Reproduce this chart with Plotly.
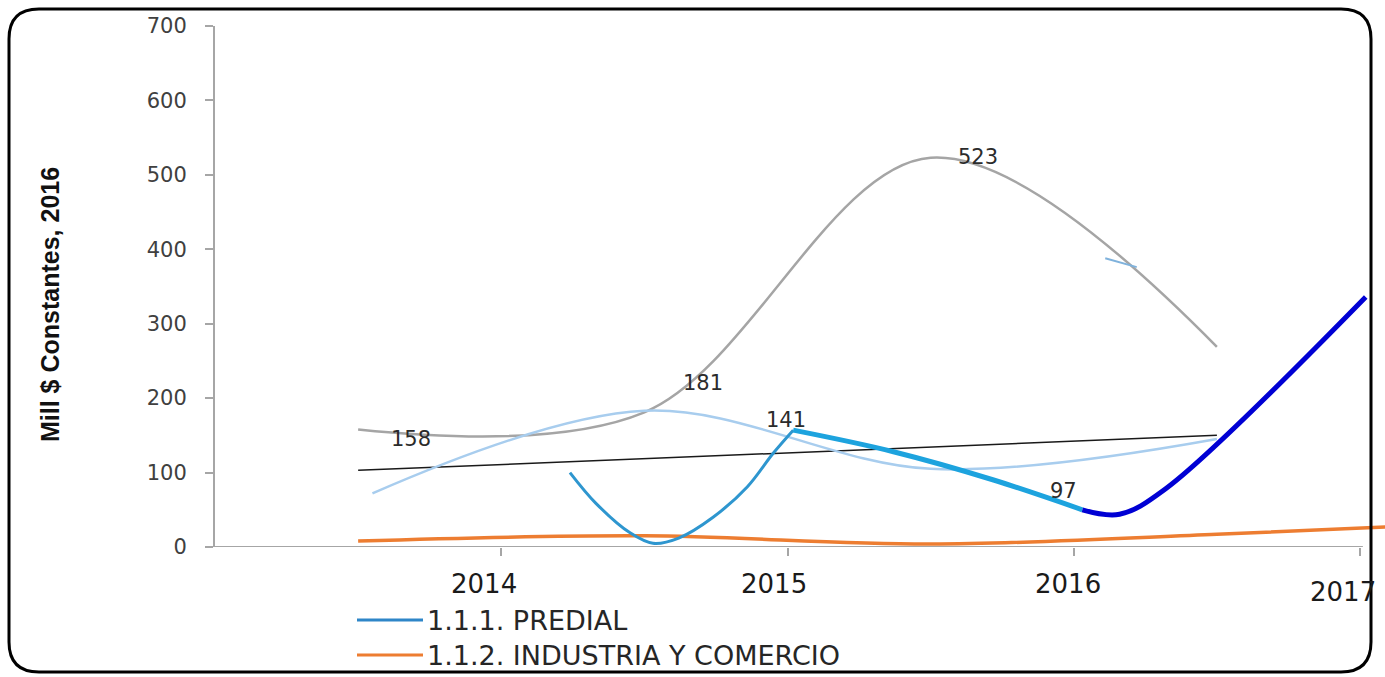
import plotly.graph_objects as go

# ---------------- data ----------------
gray_x = [2013.5, 2014.5, 2015.5, 2016.5]
gray_y = [158, 181, 523, 269]

light_x = [2013.55, 2014.5, 2015.5, 2016.5]
light_y = [72, 183, 105, 145]

trend_x = [2013.5, 2016.5]
trend_y = [103, 150]

predial_x = [2014.24, 2014.33, 2014.45, 2014.53, 2014.62, 2014.74, 2014.86, 2014.95, 2015.02]
predial_y = [100, 59, 19, 5, 12, 40, 81, 126, 157]

cyan_x = [2015.02, 2015.37, 2015.72, 2016.03]
cyan_y = [157, 128, 90, 50]

dark_x = [2016.03, 2016.16, 2016.32, 2017.02]
dark_y = [50, 44, 78, 336]

industria_x = [2013.5, 2014.5, 2015.5, 2016.5, 2017.09]
industria_y = [8, 15, 4, 17, 27]

mark_x = [2016.11, 2016.22]
mark_y = [388, 376]

year_ticks = [2014, 2015, 2016, 2017]
year_labels = ["2014", "2015", "2016", "2017"]
y_ticks = [0, 100, 200, 300, 400, 500, 600, 700]

# data labels: (text, x, y)
label_text = ["158", "181", "141", "523", "97"]
label_x = [2013.5, 2014.5, 2015.02, 2015.5, 2016.03]
label_y = [158, 181, 157, 523, 50]

legend_names = ["1.1.1. PREDIAL", "1.1.2. INDUSTRIA Y COMERCIO"]

# ---------------- layout geometry ----------------
W, H = 1385, 677
ML, MR, MT, MB = 215, 0, 26, 130
PW, PH = W - ML - MR, H - MT - MB


def px(x):
    return (x - ML) / PW


def py(y):
    return (H - MB - y) / PH


fig = go.Figure()

fig.add_trace(go.Scatter(x=trend_x, y=trend_y, mode="lines",
                         line=dict(color="#1a1a1a", width=1.5), showlegend=False))
fig.add_trace(go.Scatter(x=gray_x, y=gray_y, mode="lines",
                         line=dict(color="#A5A5A5", width=2.5, shape="spline"), showlegend=False))
fig.add_trace(go.Scatter(x=light_x, y=light_y, mode="lines",
                         line=dict(color="#A8CDEE", width=2.5, shape="spline"), showlegend=False))
fig.add_trace(go.Scatter(x=industria_x, y=industria_y, mode="lines",
                         line=dict(color="#ED7D31", width=3.5, shape="spline"), showlegend=False,
                         name=legend_names[1]))
fig.add_trace(go.Scatter(x=predial_x, y=predial_y, mode="lines",
                         line=dict(color="#2E96CF", width=3, shape="spline"), showlegend=False,
                         name=legend_names[0]))
fig.add_trace(go.Scatter(x=cyan_x, y=cyan_y, mode="lines",
                         line=dict(color="#1DA3DE", width=5, shape="spline"), showlegend=False))
fig.add_trace(go.Scatter(x=dark_x, y=dark_y, mode="lines",
                         line=dict(color="#0000D4", width=5, shape="spline"), showlegend=False))
fig.add_trace(go.Scatter(x=mark_x, y=mark_y, mode="lines",
                         line=dict(color="#7FB2DC", width=2), showlegend=False))

annotations = []
label_shift = [(53, -10), (59, 29), (-7, 10), (47, 1), (-19, 19)]
for t, x, y, (dx, dy) in zip(label_text, label_x, label_y, label_shift):
    annotations.append(dict(x=x, y=y, xref="x", yref="y", text=t, showarrow=False,
                            xshift=dx, yshift=dy,
                            font=dict(family="DejaVu Sans", size=21, color="#2b2b2b")))

# x tick labels
x_shift = [-17, -14, -6, -17]
x_lab_y = [584, 584, 584, 592]
for v, t, dx, yy in zip(year_ticks, year_labels, x_shift, x_lab_y):
    annotations.append(dict(x=v, y=py(yy), xref="x", yref="paper", text=t, showarrow=False,
                            xshift=dx, xanchor="center", yanchor="middle",
                            font=dict(family="DejaVu Sans", size=26, color="#1a1a1a")))

# y axis title
annotations.append(dict(x=px(50), y=py(305), xref="paper", yref="paper",
                        text="<b>Mill $ Constantes, 2016</b>", textangle=-90, showarrow=False,
                        xanchor="center", yanchor="middle",
                        font=dict(family="Liberation Sans, Arial", size=25, color="#111111")))

# legend text
legend_colors = ["#2E86C8", "#ED7D31"]
legend_y = [620, 655]
shapes = []
for name, c, yy in zip(legend_names, legend_colors, legend_y):
    shapes.append(dict(type="line", xref="paper", yref="paper",
                       x0=px(357), x1=px(423), y0=py(yy), y1=py(yy),
                       line=dict(color=c, width=3)))
    annotations.append(dict(x=px(425), y=py(yy), xref="paper", yref="paper", text=name,
                            showarrow=False, xanchor="left", yanchor="middle",
                            font=dict(family="DejaVu Sans", size=27, color="#262626")))

# x axis baseline
shapes.append(dict(type="line", xref="x", yref="y", x0=2013, x1=2017.01, y0=0, y1=0,
                   line=dict(color="#A6A6A6", width=2), layer="below"))

# rounded border
x0b, y0b, x1b, y1b, r = 9, 9, 1371, 672, 30
path = (f"M {px(x0b + r)} {py(y0b)} L {px(x1b - r)} {py(y0b)} "
        f"Q {px(x1b)} {py(y0b)} {px(x1b)} {py(y0b + r)} "
        f"L {px(x1b)} {py(y1b - r)} Q {px(x1b)} {py(y1b)} {px(x1b - r)} {py(y1b)} "
        f"L {px(x0b + r)} {py(y1b)} Q {px(x0b)} {py(y1b)} {px(x0b)} {py(y1b - r)} "
        f"L {px(x0b)} {py(y0b + r)} Q {px(x0b)} {py(y0b)} {px(x0b + r)} {py(y0b)} Z")
shapes.append(dict(type="path", xref="paper", yref="paper", path=path,
                   line=dict(color="#000000", width=3), layer="above"))

fig.update_layout(
    width=W, height=H,
    margin=dict(l=ML, r=MR, t=MT, b=MB, pad=0),
    paper_bgcolor="white", plot_bgcolor="white",
    showlegend=False,
    xaxis=dict(range=[2013, 2013 + PW / 286.25], showgrid=False, zeroline=False, showline=False,
               tickvals=year_ticks, ticks="outside", ticklen=8, tickwidth=1.5,
               tickcolor="#A6A6A6", showticklabels=False, fixedrange=True),
    yaxis=dict(range=[0, 700], tickvals=y_ticks, showgrid=False, zeroline=False,
               showline=True, linecolor="#A6A6A6", linewidth=2,
               ticks="outside", ticklen=8, tickwidth=1.5, tickcolor="#A6A6A6",
               ticklabelstandoff=14,
               tickfont=dict(family="DejaVu Sans", size=21, color="#404040"), fixedrange=True),
    annotations=annotations,
    shapes=shapes,
)

fig.write_html("out.html", config={"displayModeBar": False},
               post_script="document.body.style.margin='0';document.body.style.overflow='hidden';")
